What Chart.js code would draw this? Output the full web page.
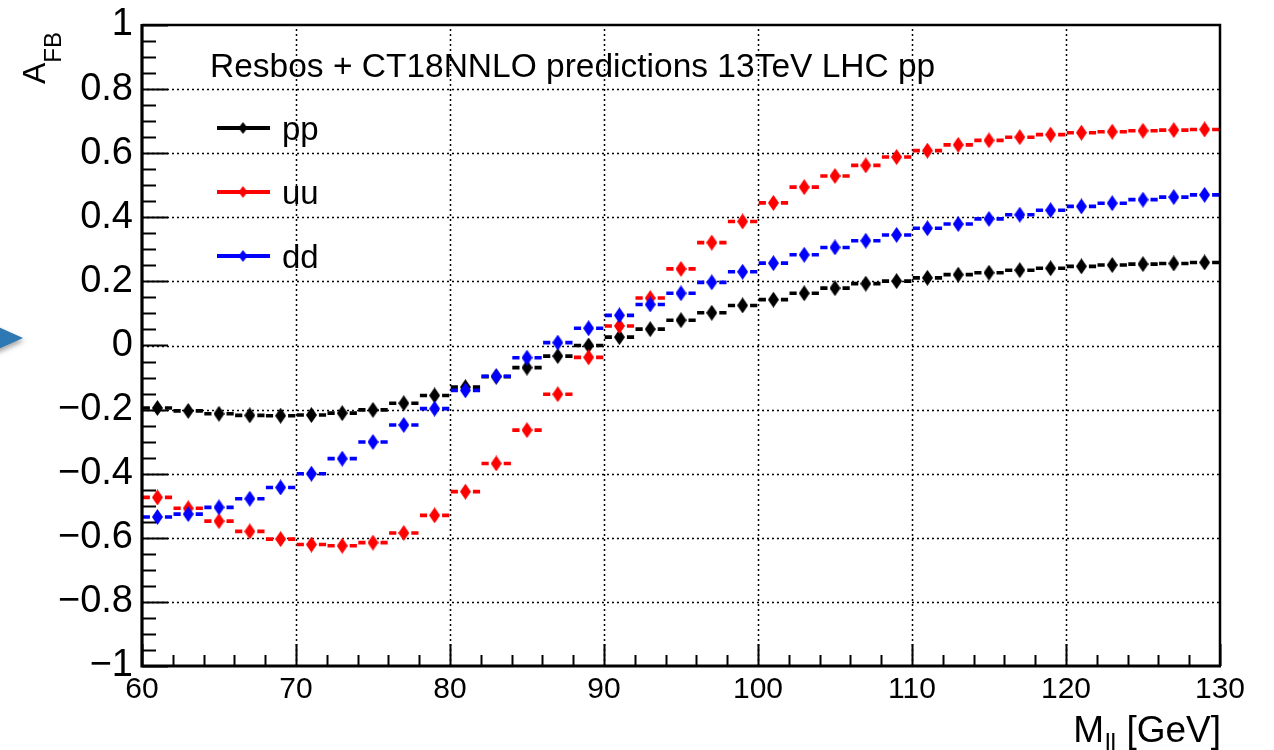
<!DOCTYPE html>
<html><head><meta charset="utf-8">
<script src="https://cdn.jsdelivr.net/npm/chart.js@4.4.0/dist/chart.umd.min.js"></script>
<style>html,body{margin:0;padding:0;background:#fff;}canvas{display:block;}</style>
</head><body>
<canvas id="c" width="1274" height="750"></canvas>
<script>
// ---- data ----
const binCenters = [61,63,65,67,69,71,73,75,77,79,81,83,85,87,89,91,93,95,97,99,101,103,105,107,109,111,113,115,117,119,121,123,125,127,129];
const binWidth = 2;
const ppValues = [-0.195,-0.204,-0.213,-0.218,-0.219,-0.217,-0.211,-0.201,-0.180,-0.156,-0.130,-0.097,-0.069,-0.033,0.000,0.026,0.051,0.079,0.102,0.125,0.143,0.163,0.179,0.193,0.201,0.211,0.221,0.227,0.235,0.241,0.247,0.251,0.254,0.256,0.259];
const uuValues = [-0.474,-0.508,-0.548,-0.580,-0.604,-0.621,-0.625,-0.615,-0.585,-0.530,-0.456,-0.368,-0.264,-0.152,-0.037,0.061,0.148,0.239,0.321,0.387,0.445,0.494,0.529,0.562,0.588,0.608,0.626,0.640,0.650,0.658,0.664,0.667,0.670,0.672,0.674];
const ddValues = [-0.535,-0.526,-0.505,-0.478,-0.443,-0.400,-0.353,-0.301,-0.248,-0.197,-0.140,-0.096,-0.038,0.009,0.054,0.094,0.128,0.163,0.197,0.230,0.257,0.283,0.306,0.327,0.345,0.366,0.379,0.395,0.408,0.422,0.434,0.444,0.455,0.463,0.470];
const seriesLabels = ['pp','uu','dd'];
const xTickLabels = ['60','70','80','90','100','110','120','130'];
const yTickLabels = ['\u22121','\u22120.8','\u22120.6','\u22120.4','\u22120.2','0','0.2','0.4','0.6','0.8','1'];
const titleText = 'Resbos + CT18NNLO predictions 13TeV LHC pp';
const yTitleMain = 'A', yTitleSub = 'FB';
const xTitleMain = 'M', xTitleSub = 'll', xTitleRest = ' [GeV]';

// ---- styles ----
const FONT = '"Liberation Sans", Arial, Helvetica, sans-serif';
const colors = ['#000000','#ff0000','#0000ff'];

function diamond(color, w, h){
  const c = document.createElement('canvas'); c.width = w; c.height = h;
  const g = c.getContext('2d'); g.fillStyle = color; g.beginPath();
  g.moveTo(w/2, 0); g.lineTo(w, h/2); g.lineTo(w/2, h); g.lineTo(0, h/2);
  g.closePath(); g.fill(); return c;
}
const markers = colors.map(c => diamond(c, 11, 16));
const legendMarkers = colors.map(c => diamond(c, 9, 12));

function pts(vals){ return binCenters.map((x,i)=>({x:x, y:vals[i]})); }

const rootPlugin = {
  id: 'rootStyle',
  beforeDatasetsDraw(chart){
    const ctx = chart.ctx, xs = chart.scales.x, ys = chart.scales.y, a = chart.chartArea;
    ctx.save();
    ctx.strokeStyle = '#000'; ctx.lineWidth = 1.5; ctx.setLineDash([2,3]);
    xs.ticks.forEach(t => {
      if (t.value <= xs.min || t.value >= xs.max) return;
      const px = Math.round(xs.getPixelForValue(t.value)) + 0.5;
      ctx.beginPath(); ctx.moveTo(px, a.bottom); ctx.lineTo(px, a.top); ctx.stroke();
    });
    ys.ticks.forEach(t => {
      if (t.value <= ys.min + 1e-9 || t.value >= ys.max - 1e-9) return;
      const py = Math.round(ys.getPixelForValue(t.value)) + 0.5;
      ctx.beginPath(); ctx.moveTo(a.left, py); ctx.lineTo(a.right, py); ctx.stroke();
    });
    ctx.restore();
  },
  beforeDatasetDraw(chart, args){
    const meta = args.meta, ds = chart.data.datasets[args.index];
    const ctx = chart.ctx, xs = chart.scales.x;
    ctx.save(); ctx.strokeStyle = ds.borderColor; ctx.lineWidth = 3.6; ctx.lineCap = 'butt';
    ds.data.forEach((p, i) => {
      const el = meta.data[i]; const cx = el.x, cy = el.y;
      const xl = xs.getPixelForValue(p.x - binWidth/2) + 0.7;
      const xr = xs.getPixelForValue(p.x + binWidth/2) - 0.7;
      const gap = 7.5;
      ctx.beginPath();
      ctx.moveTo(xl, cy); ctx.lineTo(cx - gap, cy);
      ctx.moveTo(cx + gap, cy); ctx.lineTo(xr, cy);
      ctx.stroke();
    });
    ctx.restore();
  },
  afterDatasetsDraw(chart){
    const ctx = chart.ctx, xs = chart.scales.x, ys = chart.scales.y, a = chart.chartArea;
    ctx.save(); ctx.strokeStyle = '#000';
    ctx.lineWidth = 2;
    for (let v = -1; v <= 1.0001; v += 0.05) {
      const py = Math.round(ys.getPixelForValue(v)) + 0.5;
      const major = Math.abs(Math.round(v*5) - v*5) < 1e-6;
      ctx.beginPath(); ctx.moveTo(a.left, py); ctx.lineTo(a.left + (major ? 26 : 14), py); ctx.stroke();
    }
    for (let v = 60; v <= 130; v += 2) {
      const px = Math.round(xs.getPixelForValue(v)) + 0.5;
      const major = v % 10 === 0;
      ctx.beginPath(); ctx.moveTo(px, a.bottom); ctx.lineTo(px, a.bottom - (major ? 22 : 11)); ctx.stroke();
    }
    ctx.lineWidth = 2.5;
    ctx.beginPath(); ctx.moveTo(a.left, a.top); ctx.lineTo(a.right, a.top); ctx.lineTo(a.right, a.bottom); ctx.stroke();
    ctx.lineWidth = 3.2;
    ctx.beginPath(); ctx.moveTo(a.left, a.top - 1); ctx.lineTo(a.left, a.bottom); ctx.lineTo(a.right + 1, a.bottom); ctx.stroke();
    ctx.restore();
  },
  afterDraw(chart){
    const ctx = chart.ctx, a = chart.chartArea;
    ctx.save();
    ctx.fillStyle = '#000'; ctx.textBaseline = 'alphabetic'; ctx.textAlign = 'left';
    ctx.font = '33.5px ' + FONT;
    ctx.fillText(titleText, 210, 77);
    const legendY = [128, 192, 256];
    chart.data.datasets.forEach((ds, i) => {
      const y = legendY[i];
      ctx.strokeStyle = ds.borderColor; ctx.lineWidth = 4;
      ctx.beginPath(); ctx.moveTo(217, y); ctx.lineTo(270, y); ctx.stroke();
      ctx.drawImage(legendMarkers[i], 243 - 4.5, y - 6);
      ctx.fillStyle = '#000'; ctx.font = '33px ' + FONT;
      ctx.fillText(ds.label, 282, y + 12);
    });
    ctx.font = '37px ' + FONT;
    const wM = ctx.measureText(xTitleMain).width, wR = ctx.measureText(xTitleRest).width;
    ctx.font = '25px ' + FONT;
    const wS = ctx.measureText(xTitleSub).width;
    let x0 = a.right - (wM + wS + wR);
    ctx.font = '37px ' + FONT; ctx.fillText(xTitleMain, x0, 742);
    ctx.font = '25px ' + FONT; ctx.fillText(xTitleSub, x0 + wM + 1, 752);
    ctx.font = '37px ' + FONT; ctx.fillText(xTitleRest, x0 + wM + wS + 1, 742);
    ctx.save();
    ctx.translate(45, 0); ctx.rotate(-Math.PI/2);
    ctx.font = '32px ' + FONT;
    const wA = ctx.measureText(yTitleMain).width;
    ctx.fillText(yTitleMain, -84, 0);
    ctx.font = '24px ' + FONT;
    ctx.fillText(yTitleSub, -84 + wA, 16);
    ctx.restore();
    ctx.save();
    ctx.shadowColor = 'rgba(0,0,0,0.35)'; ctx.shadowBlur = 5; ctx.shadowOffsetX = 1; ctx.shadowOffsetY = 3;
    ctx.fillStyle = '#2e78b4';
    ctx.beginPath(); ctx.moveTo(-6, 325); ctx.lineTo(23, 338); ctx.lineTo(-6, 351); ctx.closePath(); ctx.fill();
    ctx.restore();
    ctx.restore();
  }
};

const datasets = [ppValues, uuValues, ddValues].map((vals, i) => ({
  label: seriesLabels[i],
  data: pts(vals),
  borderColor: colors[i],
  backgroundColor: colors[i],
  pointStyle: markers[i],
  pointRadius: 6,
  showLine: false,
  order: 3 - i
}));

new Chart(document.getElementById('c'), {
  type: 'scatter',
  data: { datasets },
  plugins: [rootPlugin],
  options: {
    responsive: false, animation: false, events: [],
    devicePixelRatio: 1,
    layout: { padding: { left: 0, right: 54, top: 25, bottom: 0 } },
    plugins: { legend: { display: false }, tooltip: { enabled: false }, title: { display: false } },
    scales: {
      x: {
        type: 'linear', min: 60, max: 130,
        grid: { display: false, drawTicks: false }, border: { display: false },
        ticks: { stepSize: 10, color: '#000', padding: 6, maxRotation: 0, autoSkip: false,
          font: { family: FONT, size: 30 },
          callback: (v, i) => xTickLabels[i] },
        afterFit: s => { s.height = 84; s.paddingLeft = 0; s.paddingRight = 0; }
      },
      y: {
        type: 'linear', min: -1, max: 1,
        grid: { display: false, drawTicks: false }, border: { display: false },
        ticks: { stepSize: 0.2, color: '#000', padding: 9, autoSkip: false,
          font: { family: FONT, size: 38 },
          callback: (v, i) => yTickLabels[i] },
        afterFit: s => { s.width = 142; s.paddingTop = 0; s.paddingBottom = 0; }
      }
    }
  }
});
</script>
</body></html>
